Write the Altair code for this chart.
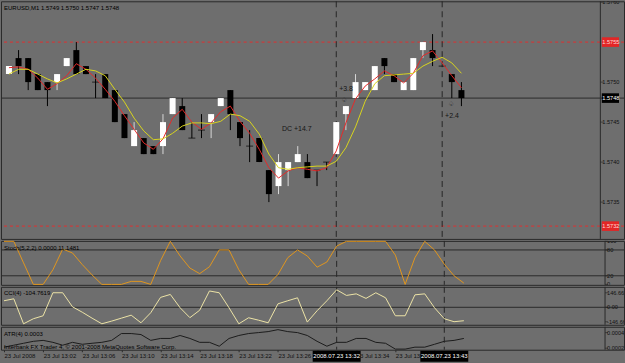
import json
import altair as alt
import pandas as pd

# ---------------- data ----------------
times = ["12:58", "12:59", "13:00", "13:01", "13:02", "13:03", "13:04", "13:05", "13:06", "13:07",
         "13:08", "13:09", "13:10", "13:11", "13:12", "13:13", "13:14", "13:15", "13:16", "13:17",
         "13:18", "13:19", "13:20", "13:21", "13:22", "13:23", "13:24", "13:25", "13:26", "13:27",
         "13:28", "13:29", "13:30", "13:31", "13:32", "13:33", "13:34", "13:35", "13:36", "13:37",
         "13:38", "13:39", "13:40", "13:41", "13:42", "13:43", "13:44", "13:45"]

opens = [1.5751, 1.5753, 1.5753, 1.5751, 1.5750, 1.5750, 1.5752, 1.5754, 1.5752, 1.5750,
         1.5751, 1.5749, 1.5746, 1.5742, 1.5743, 1.5742, 1.5742, 1.5746, 1.5747, 1.5743,
         1.5744, 1.5745, 1.5747, 1.5749, 1.5745, 1.5742, 1.5743, 1.5739, 1.5737, 1.5739,
         1.5740, 1.5740, 1.5739, 1.5740, 1.5741, 1.5746, 1.5748, 1.5749, 1.5749, 1.5753,
         1.5751, 1.5749, 1.5749, 1.5754, 1.5754, 1.5752, 1.5751, 1.5749]
highs = [1.5752, 1.5754, 1.5753, 1.5751, 1.5750, 1.5751, 1.5753, 1.5755, 1.5752, 1.5751,
         1.5751, 1.5749, 1.5746, 1.5745, 1.5743, 1.5742, 1.5746, 1.5748, 1.5748, 1.5745,
         1.5746, 1.5746, 1.5748, 1.5749, 1.5745, 1.5744, 1.5743, 1.5739, 1.5741, 1.5740,
         1.5742, 1.5741, 1.5739, 1.5740, 1.5745, 1.5747, 1.5751, 1.5750, 1.5752, 1.5753,
         1.5751, 1.5750, 1.5753, 1.5755, 1.5756, 1.5752, 1.5751, 1.5750]
lows = [1.5751, 1.5751, 1.5749, 1.5749, 1.5747, 1.5749, 1.5752, 1.5751, 1.5751, 1.5748,
        1.5748, 1.5745, 1.5743, 1.5742, 1.5741, 1.5741, 1.5741, 1.5746, 1.5744, 1.5743,
        1.5743, 1.5743, 1.5747, 1.5744, 1.5742, 1.5740, 1.5740, 1.5735, 1.5736, 1.5737,
        1.5740, 1.5738, 1.5737, 1.5739, 1.5741, 1.5744, 1.5748, 1.5749, 1.5749, 1.5751,
        1.5750, 1.5749, 1.5749, 1.5753, 1.5752, 1.5752, 1.5748, 1.5747]
closes = [1.5752, 1.5752, 1.5750, 1.5749, 1.5749, 1.5751, 1.5753, 1.5751, 1.5751, 1.5750,
          1.5748, 1.5745, 1.5743, 1.5744, 1.5741, 1.5741, 1.5745, 1.5748, 1.5744, 1.5743,
          1.5744, 1.5746, 1.5748, 1.5746, 1.5743, 1.5742, 1.5740, 1.5736, 1.5740, 1.5740,
          1.5741, 1.5738, 1.5739, 1.5740, 1.5745, 1.5747, 1.5750, 1.5750, 1.5752, 1.5752,
          1.5750, 1.5750, 1.5753, 1.5755, 1.5753, 1.5752, 1.5750, 1.5748]

ma_fast = [1.57518, 1.57519, 1.57516, 1.57505, 1.57491, 1.57498, 1.57508, 1.57523, 1.57516, 1.57505,
           1.57491, 1.57476, 1.57458, 1.57441, 1.57424, 1.57416, 1.57429, 1.57455, 1.57466, 1.57450,
           1.57441, 1.57449, 1.57463, 1.57470, 1.57451, 1.57436, 1.57416, 1.57393, 1.57380, 1.57389,
           1.57393, 1.57391, 1.57389, 1.57393, 1.57414, 1.57449, 1.57479, 1.57495, 1.57504, 1.57514,
           1.57508, 1.57499, 1.57511, 1.57533, 1.57539, 1.57524, 1.57508, 1.57493]
ma_slow = [1.57510, 1.57516, 1.57516, 1.57510, 1.57504, 1.57499, 1.57504, 1.57510, 1.57516, 1.57514,
           1.57508, 1.57491, 1.57475, 1.57455, 1.57439, 1.57428, 1.57429, 1.57436, 1.57445, 1.57449,
           1.57449, 1.57448, 1.57451, 1.57460, 1.57458, 1.57451, 1.57435, 1.57410, 1.57393, 1.57391,
           1.57393, 1.57394, 1.57395, 1.57395, 1.57401, 1.57418, 1.57444, 1.57476, 1.57498, 1.57508,
           1.57509, 1.57510, 1.57511, 1.57520, 1.57526, 1.57531, 1.57524, 1.57511]

stoch = [100, 100, 50, 0, 0, 34, 82, 73, 46, 22,
         0, 0, 0, 7, 7, 0, 55, 100, 66, 38,
         25, 41, 80, 80, 34, 0, 0, 0, 23, 62,
         80, 66, 40, 52, 89, 100, 100, 100, 100, 100,
         68, 0, 62, 100, 80, 47, 20, 3]
cci = [66, 86, -167, -116, -86, 147, 147, 5, -50, -110,
       -167, -140, -110, -80, -157, -55, 100, 130, -5, -105,
       -30, 165, 147, -5, -167, -106, -130, -157, 35, 66,
       96, -150, -35, 66, 177, 120, 136, 90, 147, 96,
       -86, -86, 126, 136, -5, -116, -146, -136]
atr = [0.000213, 0.000238, 0.000263, 0.000288, 0.0003, 0.000275, 0.000238, 0.000275, 0.00025, 0.000263,
       0.000275, 0.0003, 0.000388, 0.000388, 0.000375, 0.0003, 0.000325, 0.000325, 0.000363, 0.000325,
       0.000275, 0.000275, 0.000225, 0.000325, 0.000363, 0.000388, 0.0004, 0.000413, 0.000438, 0.000413,
       0.0004, 0.000363, 0.000288, 0.000225, 0.000275, 0.000275, 0.000325, 0.000325, 0.000275, 0.000263,
       0.000188, 0.000188, 0.000213, 0.000213, 0.00025, 0.000288, 0.0003, 0.000325]

tick_idx = [0, 4, 8, 12, 16, 20, 24, 28, 32, 36, 40, 44]
tick_text = ["23 Jul 2008", "23 Jul 13:02", "23 Jul 13:06", "23 Jul 13:10", "23 Jul 13:14",
             "23 Jul 13:18", "23 Jul 13:22", "23 Jul 13:26", "23 Jul 13:30", "23 Jul 13:34",
             "23 Jul 13:38", "23 Jul 13:42"]
marker_idx = [34, 45]
marker_text = ["2008.07.23 13:32", "2008.07.23 13:43"]

price_ticks = [1.5735, 1.5740, 1.5745, 1.5750, 1.5760]
price_tick_text = ["1.5735", "1.5740", "1.5745", "1.5750", "1.5760"]
stoch_ticks = [0, 20, 80, 100]
stoch_tick_text = ["0", "20", "80", "100"]
cci_ticks = [-146.6667, 0, 146.6667]
cci_tick_text = ["-146.6667", "0.00", "146.6667"]
atr_ticks = [0.0002, 0.0004]
atr_tick_text = ["0.0002", "0.0004"]

current_price = [1.5748]
red_levels = [1.5755, 1.5732]

header = "EURUSD,M1  1.5749 1.5750 1.5747 1.5748"
stoch_title = "Stoch(5,2,2) 0.0000 11.1481"
cci_title = "CCI(4) -104.7619"
atr_title = "ATR(4) 0.0003"
copyright_text = "Interbank FX Trader 4, \u00a9 2001-2008 MetaQuotes Software Corp."

ann_text = ["DC +14.7", "+3.8", "+2.4", "\u2664", "\u2664"]
ann_idx = [29.9, 34.3, 45.3, 34.8, 45.9]
ann_price = [1.57441, 1.57491, 1.574575, 1.574775, 1.574725]
ann_align = ["center", "left", "left", "center", "center"]

# ---------------- layout / style ----------------
PW = 624                      # each panel spans the whole window (price scale inside)
STEP = 9.8                    # pixels per bar
X0 = -3 / STEP                # first bar 3 px from the left edge
X1 = X0 + PW / STEP
XB = X0 + 605 / STEP          # price-scale border
XT = X0 + 606.5 / STEP        # scale tick marks
XL = X0 + 607 / STEP          # scale labels
H_MAIN, H_STOCH, H_CCI, H_ATR = 238, 44, 38, 23
BG = "#6e6e6e"
DARK = "#2a2a2a"
FONT = "Liberation Sans"
FS = 6
FS_SCALE = 5.6

df = pd.DataFrame({"i": list(range(len(times))), "t": times, "open": opens, "high": highs,
                   "low": lows, "close": closes, "ma_fast": ma_fast, "ma_slow": ma_slow,
                   "stoch": stoch, "cci": cci, "atr": atr})
df["body"] = ["#ffffff" if c > o else "#000000" for o, c in zip(df.open, df.close)]
df["wick"] = ["#d8d8d8" if c > o else "#000000" for o, c in zip(df.open, df.close)]

xs = alt.Scale(domain=[X0, X1], nice=False, zero=False)
X = alt.X("i:Q", scale=xs, axis=None)

label_expr = json.dumps(tick_text) + "[round(datum.value / 4)]"
x_axis = alt.Axis(orient="bottom", values=tick_idx, labelExpr=label_expr, labelAlign="left",
                  labelBaseline="top", tickSize=2, tickColor=DARK, labelPadding=1, labelFont=FONT,
                  labelFontSize=FS, labelColor="#111111", labelOverlap=False, labelFlush=False,
                  domain=False, grid=False, title=None)
XA = alt.X("i:Q", scale=xs, axis=x_axis)

markers_df = pd.DataFrame({"i": marker_idx, "label": marker_text})


def vmarkers(xenc):
    return alt.Chart(markers_df).mark_rule(color="#262626", strokeDash=[6, 4], strokeWidth=1).encode(x=xenc)


def panel_title(text, ypx, size=FS):
    return alt.Chart(pd.DataFrame({"t": [text]})).mark_text(
        align="left", baseline="middle", font=FONT, fontSize=size, color="#000000"
    ).encode(x=alt.value(3), y=alt.value(ypx), text="t:N")


def price_scale(values, texts, yscale, xaxis=None):
    d = pd.DataFrame({"v": values, "t": texts})

    def xd(v):
        if xaxis is None:
            return alt.XDatum(v, scale=xs, axis=None)
        return alt.XDatum(v, scale=xs, axis=xaxis)

    border = alt.Chart(d.head(1)).mark_rule(color=DARK, strokeWidth=1).encode(x=xd(XB))
    ticks = alt.Chart(d).mark_tick(orient="horizontal", size=3, thickness=1, color=DARK).encode(
        x=xd(XT), y=alt.Y("v:Q", scale=yscale, axis=None))
    labels = alt.Chart(d).mark_text(align="left", baseline="middle", font=FONT, fontSize=FS_SCALE,
                                    color="#111111", clip=True).encode(
        x=xd(XL), y=alt.Y("v:Q", scale=yscale, axis=None), text="t:N")
    return [border, ticks, labels]


# ---------------- main price panel ----------------
ys = alt.Scale(domain=[1.57304, 1.57601], nice=False, zero=False)
base = alt.Chart(df)

wicks = base.mark_rule(strokeWidth=1).encode(
    x=X, y=alt.Y("low:Q", scale=ys, axis=None), y2="high:Q", color=alt.Color("wick:N", scale=None))
bodies = base.transform_filter("datum.open != datum.close").mark_bar(size=6).encode(
    x=X, y=alt.Y("open:Q", scale=ys, axis=None), y2="close:Q", color=alt.Color("body:N", scale=None))
dojis = base.transform_filter("datum.open == datum.close").mark_tick(
    orient="horizontal", size=7, thickness=1, color="#000000").encode(
    x=X, y=alt.Y("open:Q", scale=ys, axis=None))
red_ma = base.mark_line(color="#e42a2a", strokeWidth=1).encode(x=X, y=alt.Y("ma_fast:Q", scale=ys, axis=None))
yel_ma = base.mark_line(color="#d8d41e", strokeWidth=1).encode(x=X, y=alt.Y("ma_slow:Q", scale=ys, axis=None))

cur_line = alt.Chart(pd.DataFrame({"p": current_price})).mark_rule(color=DARK, strokeWidth=1).encode(
    y=alt.Y("p:Q", scale=ys, axis=None))
red_lines = alt.Chart(pd.DataFrame({"p": red_levels})).mark_rule(
    color="#e03030", strokeWidth=1, strokeDash=[3, 3]).encode(y=alt.Y("p:Q", scale=ys, axis=None))

ann_df = pd.DataFrame({"t": ann_text, "i": ann_idx, "p": ann_price, "a": ann_align})
ann_c = alt.Chart(ann_df[ann_df.a == "center"]).mark_text(
    align="center", baseline="middle", font=FONT, fontSize=7, color="#151515").encode(
    x=X, y=alt.Y("p:Q", scale=ys, axis=None), text="t:N")
ann_l = alt.Chart(ann_df[ann_df.a == "left"]).mark_text(
    align="left", baseline="middle", font=FONT, fontSize=7, color="#151515").encode(
    x=X, y=alt.Y("p:Q", scale=ys, axis=None), text="t:N")

box_df = pd.DataFrame({"p": [red_levels[0], current_price[0], red_levels[1]],
                       "fill": ["#e32626", "#000000", "#e32626"],
                       "ink": ["#ffd8d8", "#ffffff", "#ffd8d8"]})
box_df["label"] = [f"{v:.4f}" for v in box_df.p]
boxes = alt.Chart(box_df).transform_calculate(
    top="datum.p + 0.00006", bot="datum.p - 0.00006").mark_rect().encode(
    x=alt.XDatum(XT, scale=xs, axis=None), x2=alt.X2Datum(X1),
    y=alt.Y("top:Q", scale=ys, axis=None), y2="bot:Q", color=alt.Color("fill:N", scale=None))
box_txt = alt.Chart(box_df).mark_text(align="left", baseline="middle", font=FONT, fontSize=FS_SCALE,
                                      clip=True).encode(
    x=alt.XDatum(XL, scale=xs, axis=None), y=alt.Y("p:Q", scale=ys, axis=None), text="label:N",
    color=alt.Color("ink:N", scale=None))

main = alt.layer(
    red_lines, cur_line, vmarkers(X), wicks, bodies, dojis, red_ma, yel_ma,
    ann_c, ann_l, *price_scale(price_ticks, price_tick_text, ys), boxes, box_txt,
    panel_title(header, 7)
).properties(width=PW, height=H_MAIN)

# ---------------- stochastic ----------------
s_scale = alt.Scale(domain=[-1, 101], nice=False, zero=False)
s_line = base.mark_line(color="#e0961e", strokeWidth=1).encode(x=X, y=alt.Y("stoch:Q", scale=s_scale, axis=None))
s_lev = alt.Chart(pd.DataFrame({"v": [20, 80]})).mark_rule(color=DARK, strokeWidth=1).encode(
    y=alt.Y("v:Q", scale=s_scale, axis=None))
stoch_panel = alt.layer(
    s_lev, vmarkers(X), s_line, *price_scale(stoch_ticks, stoch_tick_text, s_scale),
    panel_title(stoch_title, 7)
).properties(width=PW, height=H_STOCH)

# ---------------- CCI ----------------
c_scale = alt.Scale(domain=[-177, 207], nice=False, zero=False)
c_line = base.mark_line(color="#ece3a6", strokeWidth=1).encode(x=X, y=alt.Y("cci:Q", scale=c_scale, axis=None))
c_lev = alt.Chart(pd.DataFrame({"v": [0]})).mark_rule(color=DARK, strokeWidth=1).encode(
    y=alt.Y("v:Q", scale=c_scale, axis=None))
cci_panel = alt.layer(
    c_lev, vmarkers(X), c_line, *price_scale(cci_ticks, cci_tick_text, c_scale),
    panel_title(cci_title, 6)
).properties(width=PW, height=H_CCI)

# ---------------- ATR + time axis ----------------
a_scale = alt.Scale(domain=[0.00018, 0.000475], nice=False, zero=False)
a_line = base.mark_line(color="#1c1c1c", strokeWidth=1).encode(x=XA, y=alt.Y("atr:Q", scale=a_scale, axis=None))
hl_rect = alt.Chart(markers_df).transform_calculate(
    x1="datum.i - 2.45", x2="datum.i + 2.45").mark_rect(color="#000000").encode(
    x=alt.X("x1:Q", scale=xs, axis=x_axis), x2="x2:Q",
    y=alt.value(H_ATR + 1), y2=alt.value(H_ATR + 12))
hl_text = alt.Chart(markers_df).mark_text(
    align="center", baseline="middle", font=FONT, fontSize=FS, color="#ffffff").encode(
    x=XA, y=alt.value(H_ATR + 6.5), text="label:N")
atr_panel = alt.layer(
    vmarkers(XA), a_line, *price_scale(atr_ticks, atr_tick_text, a_scale, xaxis=x_axis),
    panel_title(atr_title, 7), panel_title(copyright_text, 20), hl_rect, hl_text
).properties(width=PW, height=H_ATR)

chart = alt.vconcat(main, stoch_panel, cci_panel, atr_panel, spacing=2, bounds="flush").properties(
    padding={"left": 0, "top": 0, "right": 0, "bottom": 0}
).configure(background=BG).configure_view(stroke=DARK, strokeWidth=1, fill=BG)

chart.save("out.html", embed_options={"renderer": "svg", "actions": False})
